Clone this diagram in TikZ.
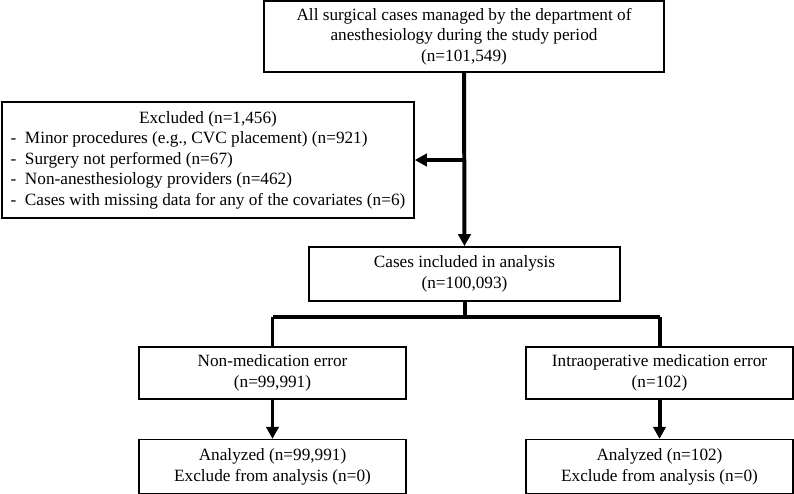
\documentclass[tikz,border=0pt]{standalone}
\usepackage{fontspec}
\setmainfont{Liberation Serif}
\usetikzlibrary{arrows.meta, positioning}

\begin{document}
\begin{tikzpicture}[x=0.03cm, y=-0.03cm, every node/.style={font=\fontsize{14.7}{17.5}\selectfont}]
    % Styles
    \tikzstyle{stage} = [rectangle, draw=black, line width=1.4pt, fill=white, align=center, inner sep=0pt]
    \tikzstyle{flow} = [-{Triangle[length=0.36cm, width=0.37cm]}, line width=3.4pt]
    \tikzstyle{split} = [line width=3.4pt]

    \useasboundingbox (0,0) rectangle (794,493);

    % Boxes
    \node[stage, minimum width=12cm, minimum height=2.13cm] (all) at (464,36.5) {All surgical cases managed by the department of\\anesthesiology during the study period\\(n=101,549)};
    \node[stage, minimum width=12.36cm, minimum height=3.48cm] (excluded) at (208,160) {\begin{tabular}{@{}l@{}}\multicolumn{1}{@{}c@{}}{Excluded (n=1,456)}\\
        -\ \ Minor procedures (e.g., CVC placement) (n=921)\\
        -\ \ Surgery not performed (n=67)\\
        -\ \ Non-anesthesiology providers (n=462)\\
        -\ \ Cases with missing data for any of the covariates (n=6)\end{tabular}};
    \node[stage, minimum width=9.33cm, minimum height=1.62cm] (included) at (464.5,274) {Cases included in analysis\\(n=100,093)};
    \node[stage, minimum width=8.01cm, minimum height=1.56cm] (nonmed) at (272.5,373) {Non-medication error\\(n=99,991)};
    \node[stage, minimum width=8.01cm, minimum height=1.56cm] (intraop) at (659.5,373) {Intraoperative medication error\\(n=102)};
    \node[stage, minimum width=8.01cm, minimum height=1.62cm, below=1.17cm of nonmed] (analyzedA) {Analyzed (n=99,991)\\Exclude from analysis (n=0)};
    \node[stage, minimum width=8.01cm, minimum height=1.62cm, below=1.17cm of intraop] (analyzedB) {Analyzed (n=102)\\Exclude from analysis (n=0)};

    % Arrows
    \draw[flow] (all.south) -- (included.north);
    \draw[flow] (all.south |- excluded.east) -- (excluded.east);
    \draw[split] (included.south) -- ++(0,15) coordinate (fork);
    \draw[split] (fork -| nonmed.north) -- (fork -| intraop.north);
    \draw[split] (fork -| nonmed.north) -- (nonmed.north);
    \draw[split] (fork -| intraop.north) -- (intraop.north);
    \draw[flow] (nonmed.south) -- (analyzedA.north);
    \draw[flow] (intraop.south) -- (analyzedB.north);
\end{tikzpicture}
\end{document}
